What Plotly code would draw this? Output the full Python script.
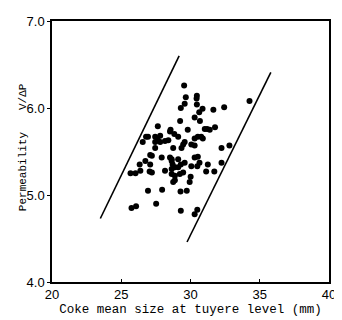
import plotly.graph_objects as go

# Scatter data: coke mean size at tuyere level (mm) vs permeability V/ΔP
coke_size = [29.54, 29.66, 29.58, 30.46, 30.44, 30.46, 29.30, 30.87, 30.63, 30.30,
             31.65, 32.43, 34.26, 29.25, 30.68, 27.64, 28.56, 29.80, 27.81, 26.93,
             27.45, 27.64, 28.52, 28.83, 29.11, 30.53, 30.30, 30.77, 31.03, 31.20,
             31.39, 31.77, 26.55, 26.79, 27.45, 27.81, 28.16, 28.40, 27.45, 28.75,
             29.35, 29.47, 29.58, 27.09, 27.21, 27.92, 28.52, 28.64, 29.11, 32.24,
             32.81, 30.06, 30.30, 30.89, 26.33, 26.74, 27.09, 28.64, 28.71, 28.87,
             29.58, 30.30, 30.53, 30.65, 26.38, 27.05, 27.21, 28.16, 28.64, 29.11,
             29.30, 30.06, 30.49, 31.25, 32.24, 26.03, 25.67, 28.64, 28.87, 29.23,
             29.47, 31.13, 31.72, 28.87, 28.75, 29.94, 30.01, 26.93, 27.95, 29.28,
             29.73, 25.74, 26.07, 27.52, 29.30, 30.30, 30.49]
permeability = [6.26, 6.125, 6.05, 6.14, 6.11, 6.04, 6.00, 5.99, 5.95, 5.89,
                5.98, 6.01, 6.08, 5.85, 5.85, 5.79, 5.75, 5.75, 5.68, 5.67,
                5.67, 5.63, 5.73, 5.70, 5.67, 5.67, 5.65, 5.67, 5.76, 5.76,
                5.75, 5.78, 5.61, 5.67, 5.61, 5.61, 5.62, 5.63, 5.54, 5.54,
                5.54, 5.58, 5.61, 5.46, 5.45, 5.43, 5.43, 5.41, 5.41, 5.54,
                5.57, 5.58, 5.57, 5.65, 5.35, 5.39, 5.35, 5.39, 5.35, 5.32,
                5.37, 5.43, 5.44, 5.37, 5.28, 5.27, 5.26, 5.28, 5.30, 5.32,
                5.35, 5.33, 5.33, 5.35, 5.37, 5.25, 5.25, 5.24, 5.22, 5.24,
                5.26, 5.27, 5.27, 5.17, 5.15, 5.15, 5.21, 5.05, 5.06, 5.04,
                5.05, 4.85, 4.87, 4.90, 4.82, 4.78, 4.83]

# Band boundary lines
upper_x = [23.49, 29.18]
upper_y = [4.73, 6.60]
lower_x = [29.75, 35.80]
lower_y = [4.46, 6.41]

x_ticks = [20, 25, 30, 35, 40]
y_ticks = [4.0, 5.0, 6.0, 7.0]

x_title = "Coke mean size at tuyere level (mm)"
y_title_name = "Permeability"
y_title_unit = "V/ΔP"

fig = go.Figure()
fig.add_trace(go.Scatter(x=upper_x, y=upper_y, mode="lines",
                         line=dict(color="black", width=1.6), showlegend=False))
fig.add_trace(go.Scatter(x=lower_x, y=lower_y, mode="lines",
                         line=dict(color="black", width=1.6), showlegend=False))
fig.add_trace(go.Scatter(x=coke_size, y=permeability, mode="markers",
                         marker=dict(color="black", size=6), showlegend=False))

fig.update_layout(
    width=334, height=312,
    margin=dict(l=44, r=9, t=6, b=34),
    paper_bgcolor="white", plot_bgcolor="white",
    font=dict(family="Liberation Sans, Arial, sans-serif", color="black", size=12),
)
fig.update_xaxes(
    range=[20, 40], tickvals=x_ticks, ticktext=[str(v) for v in x_ticks],
    showgrid=False, zeroline=False, showline=True, linecolor="black", linewidth=1.5,
    mirror=True, ticks="inside", ticklen=3, tickcolor="black",
    tickfont=dict(size=13, family="Liberation Sans, Arial, sans-serif"),
    title=dict(text=x_title,
               font=dict(family="Liberation Mono, Courier New, monospace", size=12.5),
               standoff=3),
)
fig.update_yaxes(
    range=[4.0, 7.0], tickvals=y_ticks, ticktext=[f"{v:.1f}" for v in y_ticks],
    showgrid=False, zeroline=False, showline=True, linecolor="black", linewidth=1.5,
    mirror=True, ticks="outside", ticklen=3, tickcolor="black",
    tickfont=dict(size=13, family="Liberation Sans, Arial, sans-serif"),
)
title_font = dict(family="Liberation Mono, Courier New, monospace", size=11, color="black")
fig.add_annotation(
    text=y_title_name, xref="paper", yref="paper", x=-0.107, y=0.426,
    xanchor="center", yanchor="middle", textangle=-90, showarrow=False, font=title_font,
)
fig.add_annotation(
    text=y_title_unit, xref="paper", yref="paper", x=-0.107, y=0.71,
    xanchor="center", yanchor="middle", textangle=-90, showarrow=False, font=title_font,
)

fig.write_html("out.html")
